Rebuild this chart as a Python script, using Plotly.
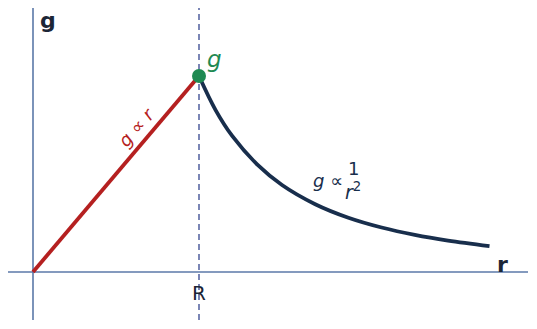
import plotly.graph_objects as go

# Data (r in units of R, g in units of g(R))
r_inside = [0.0, 1.0]
g_inside = [0.0, 1.0]
r_outside = [1.0, 1.1, 1.2, 1.35, 1.5, 1.7, 1.9, 2.1, 2.3, 2.5, 2.75]
g_outside = [1.0, 0.826, 0.694, 0.549, 0.444, 0.346, 0.277, 0.227, 0.189, 0.160, 0.132]
R_pos = [1.0]
g_peak = [1.0]

AX = "#5b78a8"
DASH = "#5a68a4"
DARK = "#1c2636"
RED = "#b52020"
NAVY = "#182e4c"
GREEN = "#1f8a52"
FONT = "DejaVu Sans"

fig = go.Figure()
fig.add_trace(go.Scatter(x=[-0.1506, 2.982], y=[0, 0], mode="lines",
                         line=dict(color=AX, width=1.6), hoverinfo="skip"))
fig.add_trace(go.Scatter(x=[0, 0], y=[-0.245, 1.347], mode="lines",
                         line=dict(color=AX, width=1.6), hoverinfo="skip"))
fig.add_trace(go.Scatter(x=[R_pos[0], R_pos[0]], y=[-0.245, 1.347], mode="lines",
                         line=dict(color=DASH, width=1.6, dash="6px,4px"), hoverinfo="skip"))
fig.add_trace(go.Scatter(x=r_inside, y=g_inside, mode="lines",
                         line=dict(color=RED, width=3.8)))
fig.add_trace(go.Scatter(x=r_outside, y=g_outside, mode="lines",
                         line=dict(color=NAVY, width=3.8, shape="spline")))
fig.add_trace(go.Scatter(x=R_pos, y=g_peak, mode="markers",
                         marker=dict(color=GREEN, size=14)))

def xp(px):
    return (px - 33) / 166.0

def yp(py):
    return (272 - py) / 196.0

ann = [
    dict(x=xp(48), y=yp(20), text="<b>g</b>", font=dict(size=22, color=DARK)),
    dict(x=xp(502), y=yp(264), text="<b>r</b>", font=dict(size=22, color=DARK)),
    dict(x=xp(199), y=yp(293), text="R", font=dict(size=20, color=DARK)),
    dict(x=xp(214), y=yp(59), text="<i>g</i>", font=dict(size=23, color=GREEN)),
    dict(x=xp(136), y=yp(127), text="<i>g</i> ∝ <i>r</i>", textangle=-49,
         font=dict(size=18, color=RED)),
    dict(x=xp(328), y=yp(180), text="<i>g</i> ∝", font=dict(size=18, color=NAVY)),
    dict(x=xp(353), y=yp(168), text="1", font=dict(size=18, color=NAVY)),
    dict(x=xp(353), y=yp(191), text="<i>r</i><sup>2</sup>", font=dict(size=19, color=NAVY)),
]
for a in ann:
    a.update(xref="x", yref="y", showarrow=False, xanchor="center", yanchor="middle")

fig.update_layout(
    width=537, height=329, margin=dict(l=0, r=0, t=0, b=0),
    paper_bgcolor="white", plot_bgcolor="white", showlegend=False,
    font=dict(family=FONT),
    xaxis=dict(range=[xp(0), xp(537)], visible=False, fixedrange=True),
    yaxis=dict(range=[yp(329), yp(0)], visible=False, fixedrange=True),
    annotations=ann,
)
fig.write_html("out.html")
